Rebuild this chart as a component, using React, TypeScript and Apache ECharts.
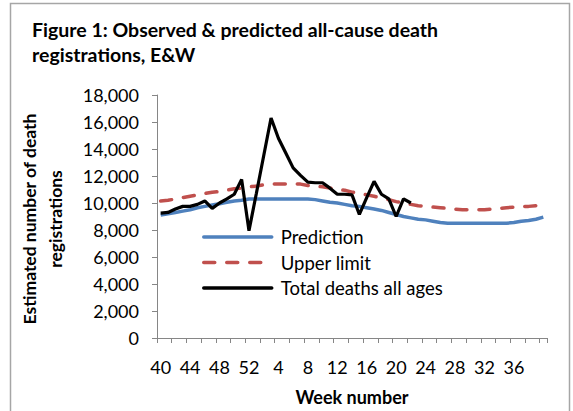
import React, { useEffect, useRef } from "react";
import * as echarts from "echarts";

const weeks = [
  "40", "41", "42", "43", "44", "45", "46", "47", "48", "49", "50", "51", "52",
  "1", "2", "3", "4", "5", "6", "7", "8", "9", "10", "11", "12", "13", "14",
  "15", "16", "17", "18", "19", "20", "21", "22", "23", "24", "25", "26", "27",
  "28", "29", "30", "31", "32", "33", "34", "35", "36", "37", "38", "39", "40",
];

const prediction = [
  9100, 9200, 9300, 9400, 9500, 9650, 9750, 9850, 9950, 10050, 10150, 10200, 10300,
  10300, 10300, 10300, 10300, 10300, 10300, 10300, 10300, 10250, 10150, 10050, 10000, 9900,
  9800, 9750, 9650, 9550, 9450, 9300, 9150, 9000, 8900, 8800, 8750, 8650, 8550,
  8500, 8500, 8500, 8500, 8500, 8500, 8500, 8500, 8500, 8550, 8650, 8700, 8800, 8950,
];

const upperLimit = [
  10150, 10200, 10300, 10400, 10500, 10600, 10700, 10800, 10850, 10950, 11050, 11100, 11200,
  11250, 11350, 11400, 11400, 11400, 11400, 11400, 11300, 11250, 11200, 11100, 11000, 10950,
  10800, 10750, 10600, 10500, 10350, 10250, 10100, 10000, 9900, 9800, 9750, 9700, 9650,
  9600, 9550, 9500, 9500, 9500, 9500, 9550, 9600, 9650, 9700, 9750, 9750, 9800, 9800,
];

const totalDeaths = [
  9250, 9300, 9550, 9750, 9750, 9900, 10150, 9600, 10000, 10300, 10650, 11750, 7950,
  10700, 13500, 16300, 14800, 13700, 12600, 12050, 11550, 11500, 11500, 11100, 10650, 10650,
  10600, 9150, 10400, 11600, 10650, 10300, 9000, 10300, 10000,
];

const seriesNames = ["Prediction", "Upper limit", "Total deaths all ages"];
const titleText = "Figure 1: Observed & predicted all-cause death\nregistrations, E&W";
const yAxisTitle = "Estimated number of death\nregistrations";
const xAxisTitle = "Week number";

const FONT = "Lato, 'Liberation Sans', sans-serif";

export default function App() {
  const ref = useRef<HTMLDivElement>(null);

  useEffect(() => {
    if (!ref.current) return;
    const chart = echarts.init(ref.current, null, { renderer: "svg" });
    const axisColor = "#868686";
    chart.setOption({
      animation: false,
      backgroundColor: "#ffffff",
      textStyle: { fontFamily: FONT },
      title: {
        text: titleText,
        left: 27,
        top: 12,
        textStyle: {
          fontFamily: FONT,
          fontSize: 19.5,
          fontWeight: "bold",
          color: "#000",
          lineHeight: 25,
        },
      },
      graphic: [
        {
          type: "rect",
          shape: { x: 10.5, y: 3.5, width: 559, height: 430 },
          style: { fill: "none", stroke: "#a6a6a6", lineWidth: 1.5 },
          z: -1,
        },
        {
          type: "text",
          x: 42,
          y: 219,
          rotation: Math.PI / 2,
          style: {
            text: yAxisTitle,
            fontFamily: FONT,
            fontSize: 17.5,
            fontWeight: "bold",
            fill: "#000",
            align: "center",
            verticalAlign: "middle",
            lineHeight: 26,
          },
        },
      ],
      legend: {
        orient: "vertical",
        left: 197,
        top: 221.5,
        itemWidth: 68,
        itemHeight: 14,
        itemGap: 4.5,
        data: seriesNames,
        itemStyle: { opacity: 0 },
        lineStyle: { width: 3.5, cap: "round" },
        textStyle: {
          fontFamily: FONT,
          fontSize: 18.5,
          lineHeight: 21,
          color: "#000",
          padding: [0, 0, 0, 4],
        },
      },
      grid: { left: 157, right: 26, top: 95, bottom: 71, containLabel: false },
      xAxis: {
        type: "category",
        data: weeks,
        boundaryGap: true,
        name: xAxisTitle,
        nameLocation: "middle",
        nameGap: 50,
        nameTextStyle: { fontFamily: FONT, fontSize: 18, fontWeight: "bold", color: "#000" },
        axisLine: { show: true, lineStyle: { color: axisColor, width: 1 } },
        axisTick: { show: true, interval: 1, length: 5, lineStyle: { color: axisColor } },
        axisLabel: {
          interval: (i: number) => i % 4 === 0 && i < weeks.length - 1,
          margin: 20,
          fontFamily: FONT,
          fontSize: 18,
          color: "#000",
        },
        splitLine: { show: false },
      },
      yAxis: {
        type: "value",
        min: 0,
        max: 18000,
        interval: 2000,
        axisLine: { show: true, lineStyle: { color: axisColor, width: 1 } },
        axisTick: { show: true, length: 5, lineStyle: { color: axisColor } },
        axisLabel: {
          margin: 18,
          fontFamily: FONT,
          fontSize: 18,
          color: "#000",
          formatter: (v: number) => v.toLocaleString("en-US"),
        },
        splitLine: { show: false },
      },
      series: [
        {
          name: seriesNames[0],
          type: "line",
          data: prediction,
          symbol: "none",
          lineStyle: { color: "#4F81BD", width: 3.5 },
          itemStyle: { color: "#4F81BD" },
          z: 2,
        },
        {
          name: seriesNames[1],
          type: "line",
          data: upperLimit,
          symbol: "none",
          lineStyle: { color: "#C0504D", width: 3.5, type: [11, 12], cap: "round" },
          itemStyle: { color: "#C0504D" },
          z: 3,
        },
        {
          name: seriesNames[2],
          type: "line",
          data: totalDeaths,
          symbol: "none",
          lineStyle: { color: "#000000", width: 3.2 },
          itemStyle: { color: "#000000" },
          z: 4,
        },
      ],
    });
    return () => chart.dispose();
  }, []);

  return (
    <div
      ref={ref}
      style={{ position: "fixed", left: 0, top: 0, width: 573, height: 411 }}
    />
  );
}
